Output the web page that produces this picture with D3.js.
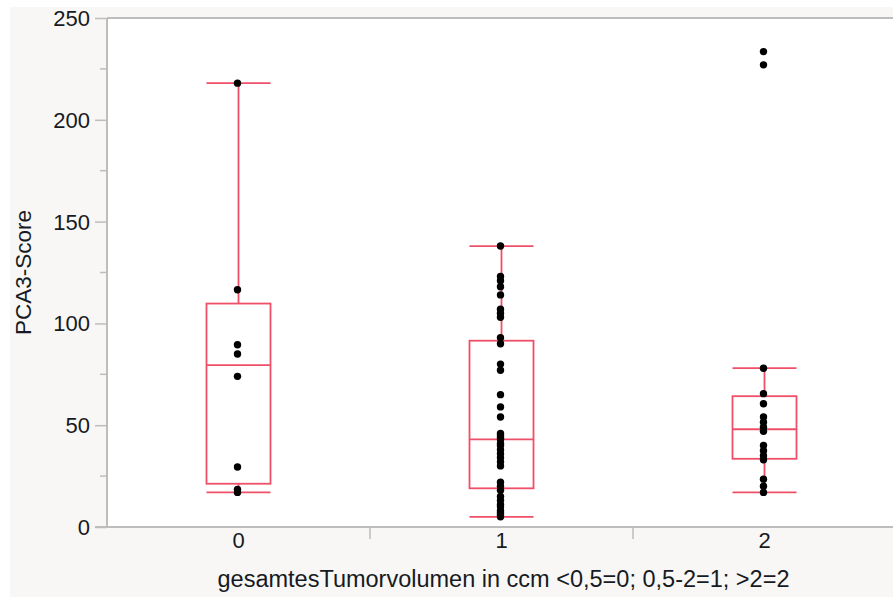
<!DOCTYPE html>
<html>
<head>
<meta charset="utf-8">
<script src="https://cdn.jsdelivr.net/npm/d3@7"></script>
<style>
  html, body { margin: 0; padding: 0; background: #ffffff; }
  svg { display: block; }
  text { font-family: "Liberation Sans", Arial, Helvetica, sans-serif; fill: #161a22; }
</style>
</head>
<body>
<svg id="chart" width="893" height="597"></svg>
<script>
// Tumour-volume groups and the PCA3 score of each patient in them
const categories = ["0", "1", "2"];
const group0 = [17, 18.5, 29.5, 74, 85, 89.5, 116.5, 218];
const group1 = [5, 6, 7, 8, 10, 11, 13, 15, 18, 20, 22, 30, 32, 34, 36, 38, 40, 41,
                43, 44, 45, 46, 54, 59, 65, 77, 80, 90, 93, 103, 105, 107, 114, 118,
                121, 123, 138];
const group2 = [17, 20, 23.5, 33, 35, 37.5, 40, 47, 49, 51.5, 54, 60.5, 65.5, 78, 227, 233.5];
const seriesValues = [group0, group1, group2];
const yTicks = [0, 50, 100, 150, 200, 250];
const yMinorTicks = [25, 75, 125, 175, 225];
const xTitle = "gesamtesTumorvolumen in ccm <0,5=0; 0,5-2=1; >2=2";
const yTitle = "PCA3-Score";

const W = 893, H = 597;
const plot = { left: 107, top: 18, right: 896, bottom: 527 };
const boxColor = "#f04f68";
const axisColor = "#bdbdbd";

const svg = d3.select("#chart");

// frame backgrounds
svg.append("rect").attr("x", 10).attr("y", 7).attr("width", W - 10).attr("height", H - 7)
  .attr("fill", "#f8f7f5");
svg.append("rect").attr("x", plot.left).attr("y", plot.top)
  .attr("width", plot.right - plot.left).attr("height", plot.bottom - plot.top)
  .attr("fill", "#ffffff");

const x = d3.scaleBand().domain(categories).range([plot.left, plot.right]).padding(0);
const y = d3.scaleLinear().domain([0, 250]).range([plot.bottom, plot.top]);

// quantile at position p*(n+1), interpolated between neighbouring ranks
function quantile(sorted, p) {
  const n = sorted.length;
  const pos = p * (n + 1);
  if (pos <= 1) return sorted[0];
  if (pos >= n) return sorted[n - 1];
  const lo = Math.floor(pos), f = pos - lo;
  return sorted[lo - 1] + f * (sorted[lo] - sorted[lo - 1]);
}

const stats = seriesValues.map((vals, i) => {
  const s = vals.slice().sort((a, b) => a - b);
  const q1 = quantile(s, 0.25), med = quantile(s, 0.5), q3 = quantile(s, 0.75);
  const iqr = q3 - q1;
  const lo = d3.min(s.filter(v => v >= q1 - 1.5 * iqr));
  const hi = d3.max(s.filter(v => v <= q3 + 1.5 * iqr));
  return { cat: categories[i], values: s, q1, med, q3, lo, hi };
});

// axes
const yAxis = d3.axisLeft(y).tickValues(yTicks).tickSize(12).tickPadding(5);
const gy = svg.append("g").attr("transform", `translate(${plot.left},0)`).call(yAxis);
gy.select(".domain").remove();
gy.selectAll(".tick line").attr("stroke", axisColor).attr("stroke-width", 1.5);
gy.selectAll(".tick text").attr("font-size", 22).attr("dy", "0.34em");

svg.append("g").selectAll("line").data(yMinorTicks).join("line")
  .attr("x1", plot.left - 7).attr("x2", plot.left)
  .attr("y1", d => y(d)).attr("y2", d => y(d))
  .attr("stroke", axisColor).attr("stroke-width", 1.5);

const xAxis = d3.axisBottom(x).tickSize(0).tickPadding(5);
const gx = svg.append("g").attr("transform", `translate(0,${plot.bottom})`).call(xAxis);
gx.select(".domain").remove();
gx.selectAll(".tick text").attr("font-size", 22);

// separators between the categories
svg.append("g").selectAll("line").data(categories.slice(1)).join("line")
  .attr("x1", d => x(d)).attr("x2", d => x(d))
  .attr("y1", plot.bottom).attr("y2", plot.bottom + 12)
  .attr("stroke", axisColor).attr("stroke-width", 1.5);

// plot frame lines
svg.append("line").attr("x1", plot.left).attr("x2", W).attr("y1", plot.top).attr("y2", plot.top)
  .attr("stroke", axisColor).attr("stroke-width", 2);
svg.append("line").attr("x1", plot.left - 12).attr("x2", W).attr("y1", plot.bottom).attr("y2", plot.bottom)
  .attr("stroke", axisColor).attr("stroke-width", 2);
svg.append("line").attr("x1", plot.left).attr("x2", plot.left).attr("y1", plot.top).attr("y2", plot.bottom)
  .attr("stroke", axisColor).attr("stroke-width", 2);

// titles
svg.append("text").attr("x", (plot.left + plot.right) / 2 + 2).attr("y", 587)
  .attr("text-anchor", "middle").attr("font-size", 23.5).text(xTitle);
svg.append("text").attr("transform", `translate(31,${(plot.top + plot.bottom) / 2}) rotate(-90)`)
  .attr("text-anchor", "middle").attr("font-size", 22.5).text(yTitle);

// box plots
const half = 32;
const boxes = svg.append("g").selectAll("g").data(stats).join("g")
  .attr("fill", "none").attr("stroke", boxColor).attr("stroke-width", 1.8);
boxes.each(function (d) {
  const g = d3.select(this);
  const cx = x(d.cat) + x.bandwidth() / 2;
  g.append("line").attr("x1", cx).attr("x2", cx).attr("y1", y(d.hi)).attr("y2", y(d.q3));
  g.append("line").attr("x1", cx).attr("x2", cx).attr("y1", y(d.q1)).attr("y2", y(d.lo));
  g.append("line").attr("x1", cx - half).attr("x2", cx + half).attr("y1", y(d.hi)).attr("y2", y(d.hi));
  g.append("line").attr("x1", cx - half).attr("x2", cx + half).attr("y1", y(d.lo)).attr("y2", y(d.lo));
  g.append("rect").attr("x", cx - half).attr("y", y(d.q3))
    .attr("width", 2 * half).attr("height", y(d.q1) - y(d.q3));
  g.append("line").attr("x1", cx - half).attr("x2", cx + half).attr("y1", y(d.med)).attr("y2", y(d.med));
});

// individual scores
svg.append("g").selectAll("g").data(stats).join("g")
  .each(function (d) {
    const cx = x(d.cat) + x.bandwidth() / 2 - 1;
    d3.select(this).selectAll("circle").data(d.values).join("circle")
      .attr("cx", cx).attr("cy", v => y(v)).attr("r", 3.7).attr("fill", "#000");
  });
</script>
</body>
</html>
